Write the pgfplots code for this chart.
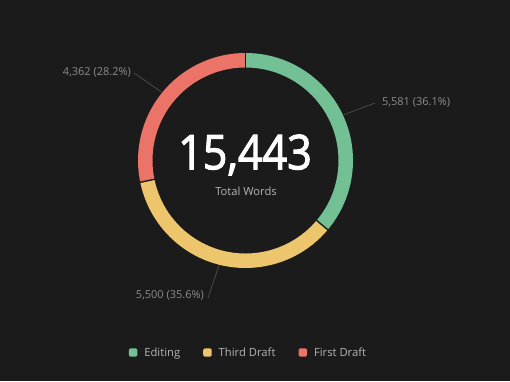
\documentclass[border=0pt]{standalone}
\usepackage{pgfplots}
\usepackage{pgfplotstable}
\pgfplotsset{compat=1.18}
\usetikzlibrary{calc}
\usepackage{fontspec}
\setmainfont{Open Sans}
\newfontfamily\numfont{Open Sans}[FakeBold=2.4]
\definecolor{bg}{HTML}{1B1B1B}
\definecolor{cEdit}{HTML}{74C095}
\definecolor{cThird}{HTML}{EDC56C}
\definecolor{cFirst}{HTML}{EB7368}
\definecolor{lbl}{HTML}{8C8C8C}
\definecolor{leg}{HTML}{B4B4B4}
\definecolor{leader}{HTML}{4A4A4A}
\pgfplotstableread{
name value
Editing 5581
ThirdDraft 5500
FirstDraft 4362
}\data
\begin{document}
\begin{tikzpicture}
\pgfplotstablegetelem{0}{value}\of\data \let\vA\pgfplotsretval
\pgfplotstablegetelem{1}{value}\of\data \let\vB\pgfplotsretval
\pgfplotstablegetelem{2}{value}\of\data \let\vC\pgfplotsretval
\pgfmathsetmacro\fA{\vA/100}
\pgfmathsetmacro\fB{\vB/100}
\pgfmathsetmacro\fC{\vC/100}
\pgfmathsetmacro\tot{\fA+\fB+\fC}
\pgfmathsetmacro\aA{90}
\pgfmathsetmacro\aB{\aA-360*(\fA/\tot)}
\pgfmathsetmacro\aC{\aB-360*(\fB/\tot)}
\pgfmathsetmacro\aD{\aC-360*(\fC/\tot)}
\pgfmathsetmacro\mA{(\aA+\aB)/2}
\pgfmathsetmacro\mB{(\aB+\aC)/2}
\pgfmathsetmacro\mC{(\aC+\aD)/2}
\def\Ro{107.5}
\def\Ri{93}
\begin{axis}[
  scale only axis, width=510bp, height=381bp,
  xmin=0, xmax=510, ymin=0, ymax=381,
  hide axis, clip=false,
  legend columns=3,
  legend style={at={(axis cs:248.5,28.5)}, anchor=center, draw=none, fill=none,
    text=leg, font=\fontsize{11.3}{13}\selectfont,
    /tikz/every even column/.append style={column sep=21bp},
    /tikz/every odd column/.append style={column sep=5bp}},
  legend image code/.code={\fill[rounded corners=2bp] (0bp,-4.2bp) rectangle (8.5bp,4.2bp);},
]
\fill[bg] (axis cs:0,0) rectangle (axis cs:510,381);
\coordinate (C) at (axis cs:245.5,220.5);
% wedges
\fill[cEdit] ($(C)+(\aA:\Ro bp)$) arc[start angle=\aA, end angle=\aB, radius=\Ro bp] -- ($(C)+(\aB:\Ri bp)$) arc[start angle=\aB, end angle=\aA, radius=\Ri bp] -- cycle;
\fill[cThird] ($(C)+(\aB:\Ro bp)$) arc[start angle=\aB, end angle=\aC, radius=\Ro bp] -- ($(C)+(\aC:\Ri bp)$) arc[start angle=\aC, end angle=\aB, radius=\Ri bp] -- cycle;
\fill[cFirst] ($(C)+(\aC:\Ro bp)$) arc[start angle=\aC, end angle=\aD, radius=\Ro bp] -- ($(C)+(\aD:\Ri bp)$) arc[start angle=\aD, end angle=\aC, radius=\Ri bp] -- cycle;
% separators
\draw[bg, line width=1.4bp] ($(C)+(\aA:\Ri bp-2bp)$) -- ($(C)+(\aA:\Ro bp+2bp)$);
\draw[bg, line width=1.4bp] ($(C)+(\aB:\Ri bp-2bp)$) -- ($(C)+(\aB:\Ro bp+2bp)$);
\draw[bg, line width=1.4bp] ($(C)+(\aC:\Ri bp-2bp)$) -- ($(C)+(\aC:\Ro bp+2bp)$);
% leader lines and labels
\draw[leader, line width=0.8bp] ($(C)+(\mA:\Ro bp+1bp)$) -- (axis cs:375,278);
\node[anchor=west, text=lbl, font=\fontsize{11}{13}\selectfont, inner sep=0pt] at (axis cs:382,278.5) {5,581 (36.1\%)};
\draw[leader, line width=0.8bp] ($(C)+(\mC:\Ro bp+1bp)$) -- (axis cs:134,308);
\node[anchor=east, text=lbl, font=\fontsize{11}{13}\selectfont, inner sep=0pt] at (axis cs:131,308.5) {4,362 (28.2\%)};
\draw[leader, line width=0.8bp] ($(C)+(\mB:\Ro bp+1bp)$) -- (axis cs:208,83);
\node[anchor=east, text=lbl, font=\fontsize{11}{13}\selectfont, inner sep=0pt] at (axis cs:204,86) {5,500 (35.6\%)};
% centre text
\node[text=white, inner sep=0pt] at (axis cs:245,226) {\scalebox{0.9}[1]{\numfont\fontsize{48}{50}\selectfont 15,443}};
\node[text=leg, font=\fontsize{11.2}{13}\selectfont, inner sep=0pt] at (axis cs:246,190) {Total Words};
% legend
\addlegendimage{fill=cEdit, draw=none}
\addlegendentry{Editing}
\addlegendimage{fill=cThird, draw=none}
\addlegendentry{Third Draft}
\addlegendimage{fill=cFirst, draw=none}
\addlegendentry{First Draft}
\end{axis}
\end{tikzpicture}
\end{document}
